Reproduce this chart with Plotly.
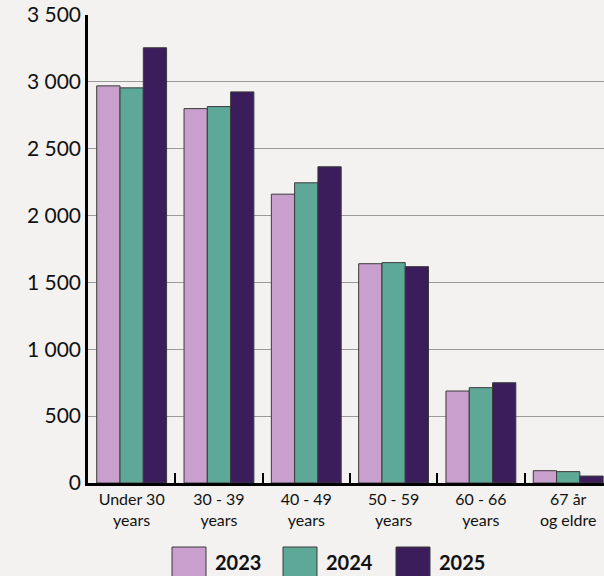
import plotly.graph_objects as go

# Employees by age group, three years
categories = ["Under 30<br>years", "30 - 39<br>years", "40 - 49<br>years",
              "50 - 59<br>years", "60 - 66<br>years", "67 år<br>og eldre"]
years = ["2023", "2024", "2025"]
values_2023 = [2970, 2800, 2160, 1640, 688, 92]
values_2024 = [2955, 2815, 2245, 1648, 713, 85]
values_2025 = [3255, 2925, 2365, 1618, 750, 52]
colors = ["#C99FCD", "#5EA898", "#3C1D5C"]

BG = "#F3F2F0"
FONT = "Lato"

fig = go.Figure()
for name, vals, col in zip(years, [values_2023, values_2024, values_2025], colors):
    fig.add_trace(go.Bar(
        x=categories, y=vals, name=name,
        marker=dict(color=col, line=dict(color="#3a3a3a", width=1)),
        showlegend=False,
    ))

# Large square legend keys drawn below the plot
key_left = [172, 283, 396]
plot_l, plot_r, plot_b, plot_t = 88, 604, 483, 15
pw, ph = plot_r - plot_l, plot_b - plot_t
def px_x(v):
    return (v - plot_l) / pw
def px_y(v):
    return (plot_b - v) / ph

shapes = []
annotations = []
for name, col, xl in zip(years, colors, key_left):
    shapes.append(dict(type="rect", xref="paper", yref="paper",
                       x0=px_x(xl), x1=px_x(xl + 34), y0=px_y(581), y1=px_y(547),
                       fillcolor=col, line=dict(color="#3a3a3a", width=1)))
    annotations.append(dict(xref="paper", yref="paper", x=px_x(xl + 41), y=px_y(562),
                            text=f"<b>{name}</b>", showarrow=False, xanchor="left",
                            yanchor="middle", font=dict(family=FONT, size=20, color="#111")))

fig.update_layout(
    width=604, height=576,
    margin=dict(l=plot_l, r=0, t=plot_t, b=576 - plot_b),
    paper_bgcolor=BG, plot_bgcolor=BG,
    barmode="group", bargap=0.2, bargroupgap=0,
    separators=", ",
    font=dict(family=FONT, color="#111"),
    shapes=shapes, annotations=annotations,
)
fig.update_xaxes(
    range=[-0.5, 5.41],
    showline=True, linecolor="black", linewidth=2.5,
    ticks="inside", tickson="boundaries", ticklen=10, tickwidth=2, tickcolor="black",
    tickfont=dict(family=FONT, size=16, color="#111"),
    showgrid=False,
)
fig.update_yaxes(
    range=[0, 3500], tickvals=[0, 500, 1000, 1500, 2000, 2500, 3000, 3500],
    tickformat=",d",
    showline=True, linecolor="black", linewidth=2.5,
    showgrid=True, gridcolor="#9a9a9a", gridwidth=1,
    zeroline=False, ticks="",
    tickfont=dict(family=FONT, size=21, color="#111"),
)

fig.write_html("out.html")
